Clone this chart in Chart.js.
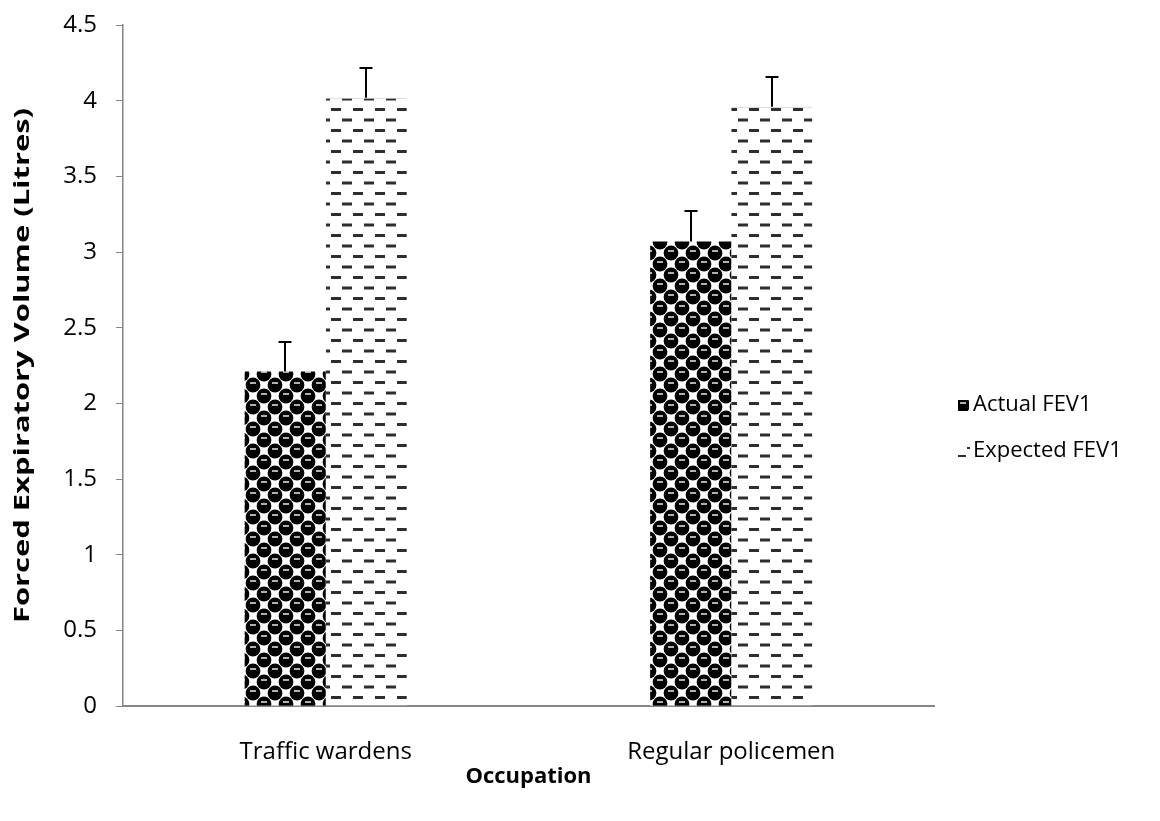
<!DOCTYPE html>
<html>
<head>
<meta charset="utf-8">
<script src="https://cdn.jsdelivr.net/npm/chart.js@4"></script>
<style>
  html, body { margin: 0; padding: 0; background: #fff; }
  #wrap { width: 1160px; height: 821px; }
</style>
</head>
<body>
<div id="wrap"><canvas id="fevChart"></canvas></div>
<script>
// ── Data ─────────────────────────────────────────
const categories   = ['Traffic wardens', 'Regular policemen'];
const actualFev1   = [2.21, 3.07];
const actualErr    = [0.2, 0.21];
const expectedFev1 = [4.02, 3.96];
const expectedErr  = [0.2, 0.2];
const yTicks       = [0, 0.5, 1, 1.5, 2, 2.5, 3, 3.5, 4, 4.5];

const FONT = "'Open Sans', sans-serif";
const AXIS_GRAY = '#868686';

// ── Fill patterns ────────────────────────────────
function sphereTile() {
  const t = document.createElement('canvas');
  t.width = 22; t.height = 22;
  const c = t.getContext('2d');
  c.fillStyle = '#fff';
  c.fillRect(0, 0, 22, 22);
  [[0, 0], [22, 0], [0, 22], [22, 22], [11, 11]].forEach(([x, y]) => {
    c.beginPath();
    c.arc(x, y, 7.4, 0, Math.PI * 2);
    c.fillStyle = '#000';
    c.fill();
    c.fillStyle = '#b0b0b0';
    c.fillRect(x - 3, y - 3, 6, 2);
  });
  return t;
}

function dashTile() {
  const t = document.createElement('canvas');
  t.width = 22; t.height = 21;
  const c = t.getContext('2d');
  c.fillStyle = '#fff';
  c.fillRect(0, 0, 22, 21);
  c.fillStyle = '#2e2e2e';
  c.fillRect(1, 3, 10, 3);
  c.fillRect(12, 13.5, 10, 3);
  return t;
}

const ctx0 = document.createElement('canvas').getContext('2d');
const spherePattern = ctx0.createPattern(sphereTile(), 'repeat');
const dashPattern   = ctx0.createPattern(dashTile(), 'repeat');

// ── Error bars (top cap only) ────────────────────
const errorBars = {
  id: 'errorBars',
  afterDatasetsDraw(chart) {
    const { ctx, scales: { y } } = chart;
    const errs = [actualErr, expectedErr];
    ctx.save();
    ctx.strokeStyle = '#000';
    ctx.lineWidth = 2;
    chart.data.datasets.forEach((ds, di) => {
      chart.getDatasetMeta(di).data.forEach((bar, i) => {
        const top = Math.round(y.getPixelForValue(ds.data[i] + errs[di][i])) + 1;
        const x = Math.round(bar.x);
        ctx.beginPath();
        ctx.moveTo(x, bar.y);
        ctx.lineTo(x, top);
        ctx.moveTo(x - 6.5, top);
        ctx.lineTo(x + 6.5, top);
        ctx.stroke();
      });
    });
    ctx.restore();
  }
};

// ── Y title, stretched along its length like the original ──
const yTitle = {
  id: 'yTitle',
  afterDraw(chart) {
    const { ctx, chartArea } = chart;
    const text = 'Forced Expiratory Volume (Litres)';
    ctx.save();
    ctx.font = 'bold 22px ' + FONT;
    ctx.fillStyle = '#000';
    ctx.textAlign = 'center';
    ctx.textBaseline = 'middle';
    const w = ctx.measureText(text).width;
    ctx.translate(23, (chartArea.top + chartArea.bottom) / 2);
    ctx.rotate(-Math.PI / 2);
    ctx.scale(515 / w, 1);
    ctx.fillText(text, 0, 0);
    ctx.restore();
  }
};

// ── Legend on the right ──────────────────────────
const sideLegend = {
  id: 'sideLegend',
  afterDraw(chart) {
    const { ctx } = chart;
    ctx.save();
    ctx.font = '22px ' + FONT;
    ctx.textBaseline = 'middle';
    chart.data.datasets.forEach((ds, i) => {
      const yy = 405 + i * 46;
      const bx = 958, by = yy - 5;
      if (i === 0) {
        ctx.save();
        ctx.beginPath();
        ctx.rect(bx, by, 11, 11);
        ctx.clip();
        ctx.translate(bx - 6, by - 6);
        ctx.fillStyle = ds.backgroundColor;
        ctx.fillRect(0, 0, 30, 30);
        ctx.restore();
      } else {
        // tiny piece of the dash pattern, as in the original key
        ctx.fillStyle = '#2e2e2e';
        ctx.fillRect(bx, by + 9, 8, 2);
        ctx.fillRect(bx + 9, by + 1, 3, 2);
      }
      ctx.fillStyle = '#000';
      ctx.fillText(ds.label, 973, yy);
    });
    ctx.restore();
  }
};

new Chart(document.getElementById('fevChart'), {
  type: 'bar',
  data: {
    labels: categories,
    datasets: [
      {
        label: 'Actual FEV1',
        data: actualFev1,
        backgroundColor: spherePattern,
        borderWidth: 0,
        categoryPercentage: 0.4,
        barPercentage: 1.0,
      },
      {
        label: 'Expected FEV1',
        data: expectedFev1,
        backgroundColor: dashPattern,
        borderColor: '#c4c4c4',
        borderWidth: { top: 1, left: 0, right: 0, bottom: 0 },
        borderSkipped: 'bottom',
        categoryPercentage: 0.4,
        barPercentage: 1.0,
      }
    ]
  },
  options: {
    responsive: true,
    maintainAspectRatio: false,
    animation: false,
    devicePixelRatio: 1,
    layout: { padding: { top: 25, right: 226, left: 0, bottom: 0 } },
    plugins: {
      legend: { display: false },
      tooltip: { enabled: false }
    },
    scales: {
      x: {
        grid: { display: false },
        border: { color: AXIS_GRAY, width: 2 },
        ticks: { color: '#000', font: { family: FONT, size: 24 }, padding: 24 },
        title: {
          display: true, text: 'Occupation', color: '#000',
          font: { family: FONT, size: 22, weight: 'bold' },
          padding: { top: 0, bottom: 31 }
        },
        afterFit: s => { s.height = 115; s.paddingLeft = 0; s.paddingRight = 0; }
      },
      y: {
        min: 0, max: 4.5,
        afterBuildTicks: s => { s.ticks = yTicks.map(v => ({ value: v })); },
        grid: { drawOnChartArea: false, drawTicks: true, tickLength: 7, color: AXIS_GRAY },
        border: { color: AXIS_GRAY, width: 1.5 },
        ticks: {
          color: '#000', font: { family: FONT, size: 24 }, padding: 19,
          callback: v => String(v)
        },
        afterFit: s => { s.width = 123; s.paddingTop = 0; s.paddingBottom = 0; }
      }
    }
  },
  plugins: [errorBars, yTitle, sideLegend]
});
</script>
</body>
</html>
